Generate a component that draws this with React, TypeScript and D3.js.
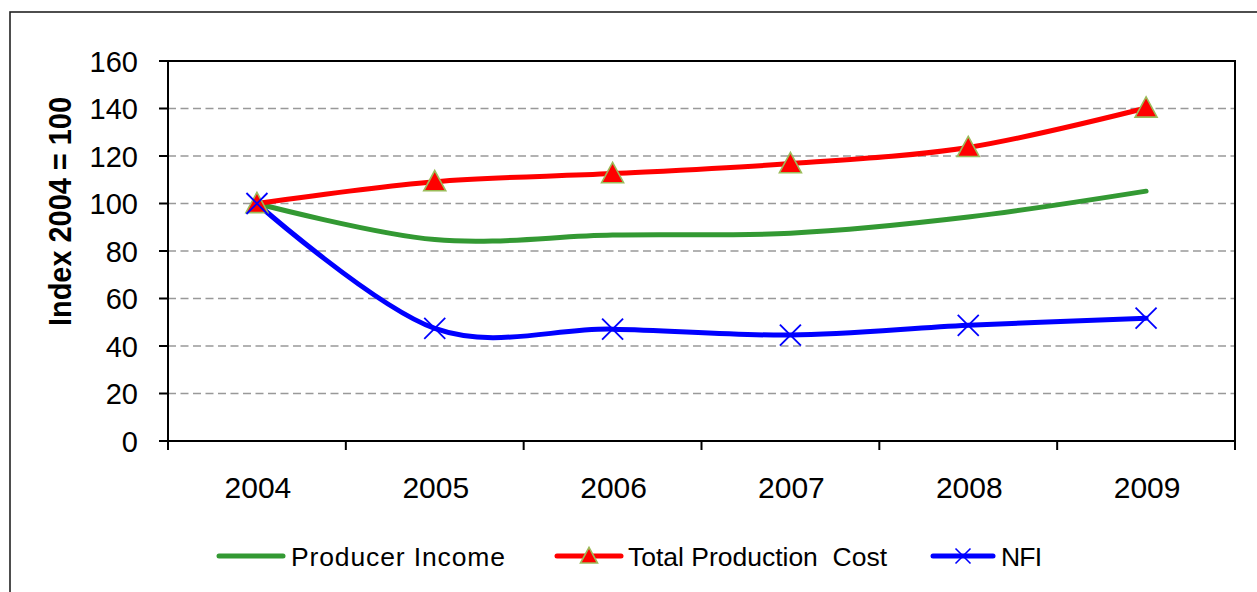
import React from "react";
import * as d3 from "d3";

const years = ["2004", "2005", "2006", "2007", "2008", "2009"];
const producerIncome = [100, 84.8, 86.7, 87.5, 94.3, 105.2];
const totalProductionCost = [100, 109.2, 112.6, 116.8, 123.6, 140.2];
const nfi = [100, 47.4, 47.1, 44.6, 48.7, 51.7];
const yTicks = [0, 20, 40, 60, 80, 100, 120, 140, 160];

const W = 1257;
const H = 592;
const plot = { left: 168, right: 1235, top: 61, bottom: 441 };

const GREEN = "#339933";
const RED = "#FF0000";
const BLUE = "#0000FF";
const FONT = "'Liberation Sans', Arial, Helvetica, sans-serif";

function Triangle({ cx, cy, size }: { cx: number; cy: number; size: number }) {
  const h = size * 0.92;
  const d = `M${cx},${cy - h * 0.55} L${cx + size / 2},${cy + h * 0.45} L${cx - size / 2},${cy + h * 0.45} Z`;
  return <path d={d} fill={RED} stroke="#9BBB59" strokeWidth={1.6} strokeLinejoin="miter" />;
}

function Cross({ cx, cy, size, width }: { cx: number; cy: number; size: number; width: number }) {
  const r = size / 2;
  return (
    <g stroke={BLUE} strokeWidth={width}>
      <line x1={cx - r} y1={cy - r} x2={cx + r} y2={cy + r} />
      <line x1={cx - r} y1={cy + r} x2={cx + r} y2={cy - r} />
    </g>
  );
}

export default function App() {
  const x = d3.scaleBand<string>().domain(years).range([plot.left, plot.right]).padding(0);
  const y = d3.scaleLinear().domain([0, 160]).range([plot.bottom, plot.top]);
  const cx = (yr: string) => (x(yr) as number) + x.bandwidth() / 2;

  const line = d3
    .line<number>()
    .x((_, i) => cx(years[i]))
    .y((v) => y(v))
    .curve(d3.curveCardinal.tension(0));

  const boundaries = years.map((yr) => x(yr) as number).concat([plot.right]);

  return (
    <svg
      width={W}
      height={H}
      style={{ position: "absolute", left: 0, top: 0, background: "#fff" }}
      fontFamily={FONT}
    >
      <rect x={0} y={0} width={W} height={H} fill="#fff" />
      {/* outer chart frame */}
      <rect x={10} y={12} width={W + 20} height={H + 20} fill="none" stroke="#222" strokeWidth={1.6} />

      {/* gridlines */}
      {yTicks
        .filter((t) => t > 0 && t < 160)
        .map((t) => (
          <line
            key={`g${t}`}
            x1={plot.left}
            x2={plot.right}
            y1={y(t)}
            y2={y(t)}
            stroke="#999"
            strokeWidth={1.6}
            strokeDasharray="8 4.5"
          />
        ))}

      {/* plot border */}
      <rect
        x={plot.left}
        y={plot.top}
        width={plot.right - plot.left}
        height={plot.bottom - plot.top}
        fill="none"
        stroke="#000"
        strokeWidth={2}
      />

      {/* y ticks and labels */}
      {yTicks.map((t) => (
        <g key={`y${t}`}>
          <line x1={plot.left - 9} x2={plot.left} y1={y(t)} y2={y(t)} stroke="#000" strokeWidth={2} />
          <text x={138} y={y(t) + 10.5} textAnchor="end" fontSize={29} fill="#000">
            {t}
          </text>
        </g>
      ))}

      {/* x ticks and labels */}
      {boundaries.map((b, i) => (
        <line key={`xt${i}`} x1={b} x2={b} y1={plot.bottom} y2={plot.bottom + 9} stroke="#000" strokeWidth={2} />
      ))}
      {years.map((yr) => (
        <text key={`xl${yr}`} x={cx(yr) + 1} y={498} textAnchor="middle" fontSize={30} fill="#000">
          {yr}
        </text>
      ))}

      {/* y axis title */}
      <text
        transform="translate(71,211.5) rotate(-90)"
        textAnchor="middle"
        fontSize={31}
        fontWeight="bold"
        fill="#000"
        textLength={229}
        lengthAdjust="spacingAndGlyphs"
      >
        Index 2004 = 100
      </text>

      {/* series lines */}
      <path d={line(producerIncome) ?? ""} fill="none" stroke={GREEN} strokeWidth={5} strokeLinecap="round" />
      <path d={line(totalProductionCost) ?? ""} fill="none" stroke={RED} strokeWidth={5} strokeLinecap="round" />
      <path d={line(nfi) ?? ""} fill="none" stroke={BLUE} strokeWidth={5} strokeLinecap="round" />

      {/* markers */}
      {totalProductionCost.map((v, i) => (
        <Triangle key={`tri${i}`} cx={cx(years[i])} cy={y(v)} size={22} />
      ))}
      {nfi.map((v, i) => (
        <Cross key={`x${i}`} cx={cx(years[i])} cy={y(v)} size={21} width={1.8} />
      ))}

      {/* legend */}
      <line x1={219} x2={283} y1={556} y2={556} stroke={GREEN} strokeWidth={5} strokeLinecap="round" />
      <text x={291} y={565.5} fontSize={26.5} textLength={214} lengthAdjust="spacing" fill="#000">
        Producer Income
      </text>

      <line x1={557} x2={621} y1={556} y2={556} stroke={RED} strokeWidth={5} strokeLinecap="round" />
      <Triangle cx={589} cy={556} size={17} />
      <text
        x={628}
        y={565.5}
        fontSize={26.5}
        textLength={259}
        lengthAdjust="spacing"
        fill="#000"
        style={{ whiteSpace: "pre" }}
      >
        Total Production  Cost
      </text>

      <line x1={933} x2={993} y1={556} y2={556} stroke={BLUE} strokeWidth={5} strokeLinecap="round" />
      <Cross cx={963} cy={556} size={15} width={1.6} />
      <text x={1001} y={565.5} fontSize={26.5} textLength={41} lengthAdjust="spacing" fill="#000">
        NFI
      </text>
    </svg>
  );
}
